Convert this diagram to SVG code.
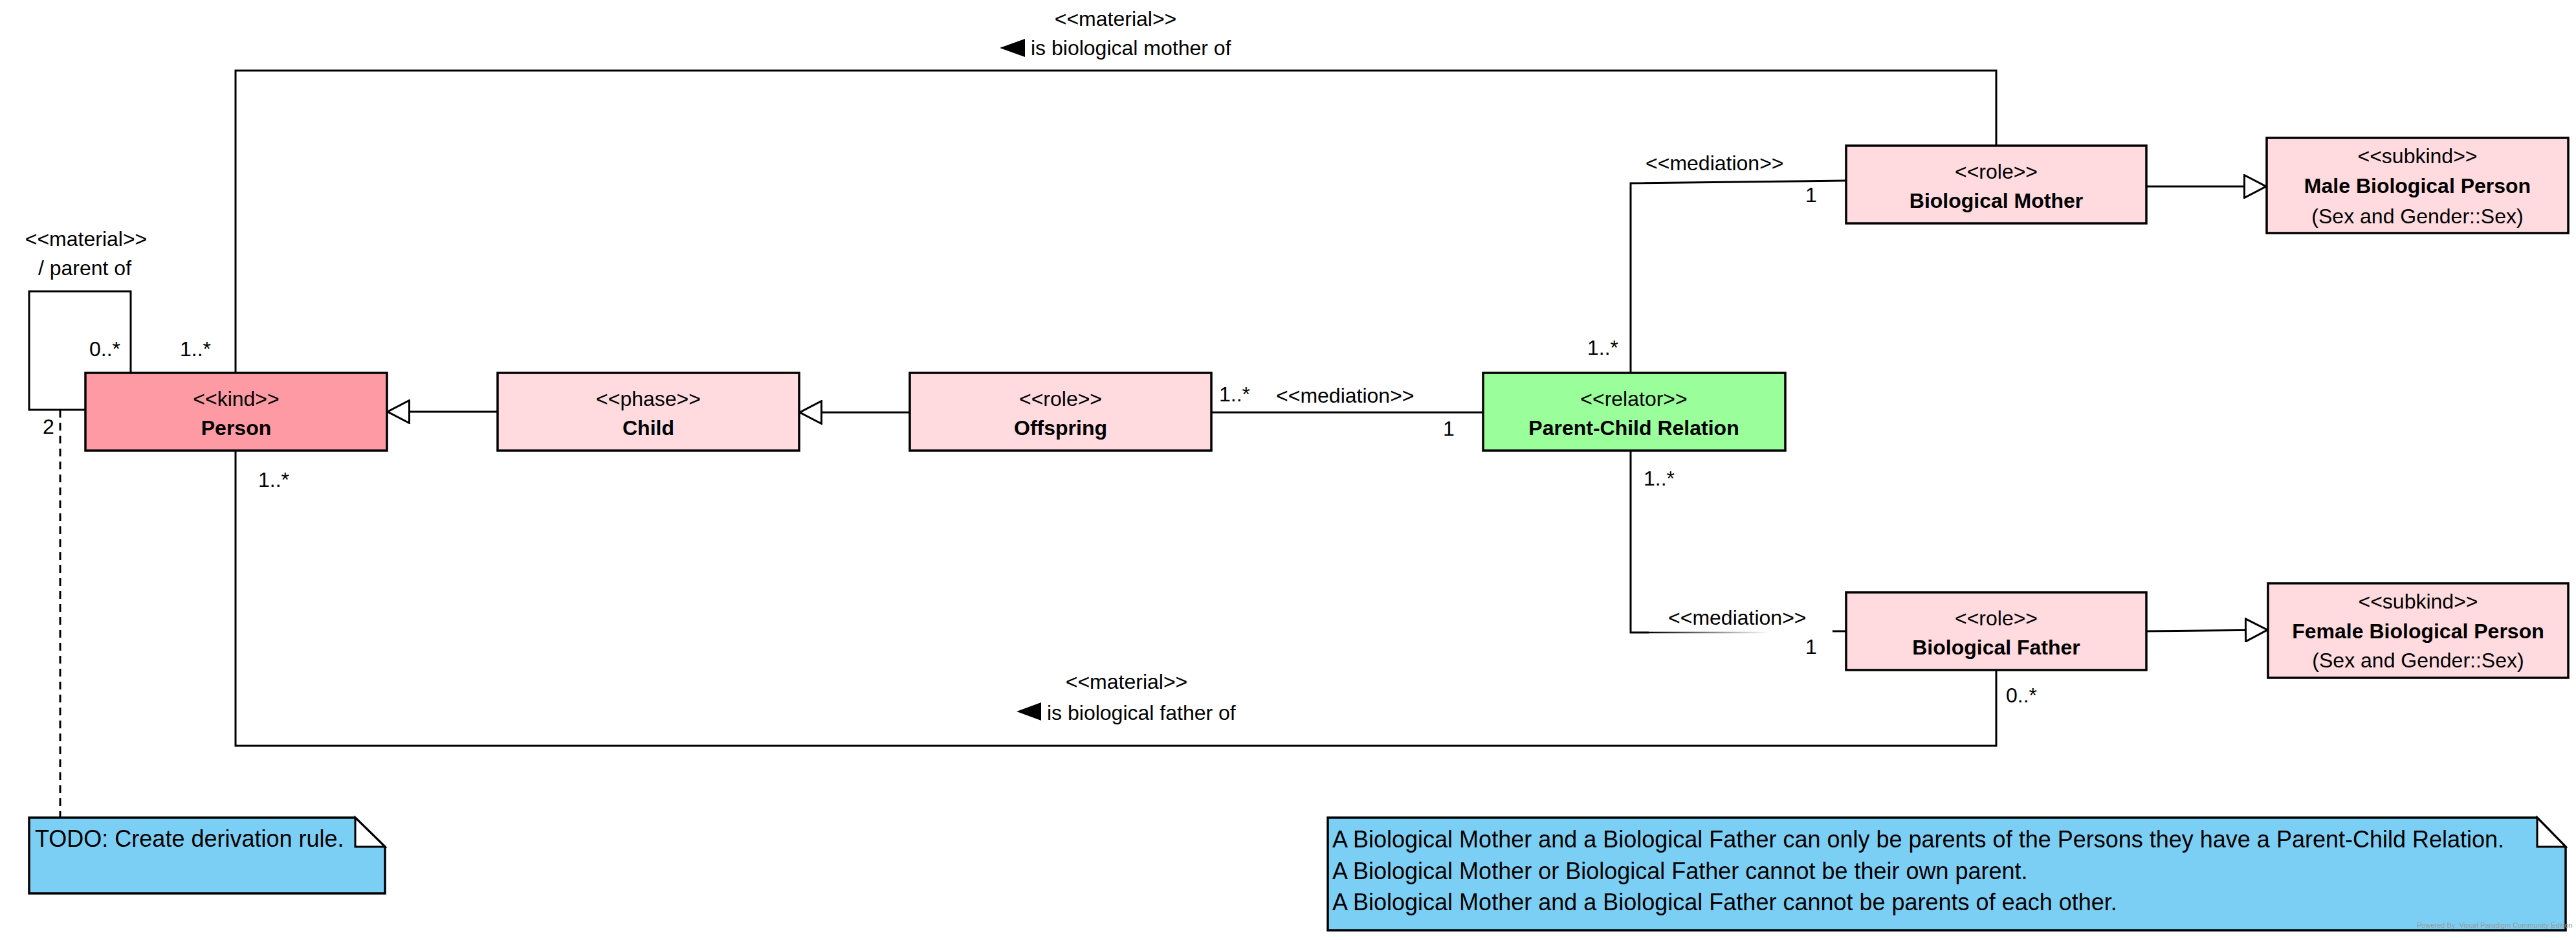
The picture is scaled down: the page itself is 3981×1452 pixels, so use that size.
<svg xmlns="http://www.w3.org/2000/svg" width="3981" height="1452" viewBox="0 0 3981 1452">
<style>
.t{font-family:"Liberation Sans",Arial,Helvetica,sans-serif;font-size:32px;fill:#000}
.n{font-size:36px}
.b{font-weight:bold}
.c{text-anchor:middle}
.box{stroke:#000;stroke-width:3.5}
.ln{fill:none;stroke:#000;stroke-width:3}
.pink{fill:#FFDADF}
.note{fill:#7CCFF4;stroke:#000;stroke-width:3.5}
.fold{fill:#fff;stroke:#000;stroke-width:3}
.wm{font-family:"Liberation Sans",Arial,sans-serif;font-size:11px;fill:#999}
</style>
<defs>
<marker id="gen" viewBox="0 0 36 38" refX="36" refY="19" markerWidth="36" markerHeight="38" markerUnits="userSpaceOnUse" orient="auto">
<path d="M1.5,1.5 L35,19 L1.5,36.5 Z" fill="#fff" stroke="#000" stroke-width="3"/>
</marker>
<linearGradient id="fade" gradientUnits="userSpaceOnUse" x1="2548" y1="0" x2="2735" y2="0">
<stop offset="0" stop-color="#000"/>
<stop offset="1" stop-color="#fff"/>
</linearGradient>
</defs>
<rect width="3981" height="1452" fill="#fff"/>

<g id="connectors">
<!-- self loop parent of -->
<polyline class="ln" points="202,576 202,450 45,450 45,633 132,633"/>
<!-- is biological mother of -->
<polyline class="ln" points="364,576 364,109 3085,109 3085,225"/>
<!-- is biological father of -->
<polyline class="ln" points="364,696 364,1152 3085,1152 3085,1035"/>
<!-- Offspring - PCR -->
<line class="ln" x1="1872" y1="637" x2="2292" y2="637"/>
<!-- PCR - Bio Mother -->
<polyline class="ln" points="2520,576 2520,283 2853,279"/>
<!-- PCR - Bio Father -->
<polyline class="ln" points="2520,696 2520,977 2548,977"/>
<line x1="2548" y1="977" x2="2735" y2="977" stroke="url(#fade)" stroke-width="2.5"/>
<line class="ln" x1="2832" y1="975" x2="2853" y2="975"/>
<!-- note anchor -->
<line x1="93" y1="633" x2="93" y2="1263" stroke="#000" stroke-width="3" stroke-dasharray="12 8"/>
<!-- generalizations -->
<line class="ln" x1="769" y1="636" x2="598" y2="636" marker-end="url(#gen)"/>
<line class="ln" x1="1406" y1="637" x2="1235" y2="637" marker-end="url(#gen)"/>
<line class="ln" x1="3317" y1="288" x2="3503" y2="288" marker-end="url(#gen)"/>
<line class="ln" x1="3317" y1="975" x2="3505" y2="973" marker-end="url(#gen)"/>
<!-- labels -->
<text class="t c" x="133" y="380">&lt;&lt;material&gt;&gt;</text>
<text class="t c" x="131" y="425">/ parent of</text>
<text class="t" x="138" y="550">0..*</text>
<text class="t" x="278" y="550">1..*</text>
<text class="t" x="66" y="670">2</text>
<text class="t" x="399" y="752">1..*</text>
<text class="t c" x="1724" y="40">&lt;&lt;material&gt;&gt;</text>
<polygon points="1545,74 1584,60 1584,88" fill="#000"/>
<text class="t" x="1593" y="85">is biological mother of</text>
<text class="t c" x="1741" y="1064">&lt;&lt;material&gt;&gt;</text>
<polygon points="1571,1099 1609,1085 1609,1113" fill="#000"/>
<text class="t" x="1618" y="1112">is biological father of</text>
<text class="t" x="3100" y="1085">0..*</text>
<text class="t" x="1884" y="620">1..*</text>
<text class="t" x="1972" y="622">&lt;&lt;mediation&gt;&gt;</text>
<text class="t" x="2230" y="673">1</text>
<text class="t" x="2453" y="548">1..*</text>
<text class="t" x="2543" y="263">&lt;&lt;mediation&gt;&gt;</text>
<text class="t" x="2790" y="312">1</text>
<text class="t" x="2540" y="750">1..*</text>
<text class="t" x="2578" y="965">&lt;&lt;mediation&gt;&gt;</text>
<text class="t" x="2790" y="1010">1</text>
</g>

<g id="person">
<rect class="box" x="132" y="576" width="466" height="120" fill="#FE9AA3"/>
<text class="t c" x="365" y="627">&lt;&lt;kind&gt;&gt;</text>
<text class="t c b" x="365" y="672">Person</text>
</g>
<g id="child">
<rect class="box pink" x="769" y="576" width="466" height="120"/>
<text class="t c" x="1002" y="627">&lt;&lt;phase&gt;&gt;</text>
<text class="t c b" x="1002" y="672">Child</text>
</g>
<g id="offspring">
<rect class="box pink" x="1406" y="576" width="466" height="120"/>
<text class="t c" x="1639" y="627">&lt;&lt;role&gt;&gt;</text>
<text class="t c b" x="1639" y="672">Offspring</text>
</g>
<g id="parent-child-relation">
<rect class="box" x="2292" y="576" width="467" height="120" fill="#9AFF9A"/>
<text class="t c" x="2525" y="627">&lt;&lt;relator&gt;&gt;</text>
<text class="t c b" x="2525" y="672">Parent-Child Relation</text>
</g>
<g id="biological-mother">
<rect class="box pink" x="2853" y="225" width="464" height="120"/>
<text class="t c" x="3085" y="276">&lt;&lt;role&gt;&gt;</text>
<text class="t c b" x="3085" y="321">Biological Mother</text>
</g>
<g id="biological-father">
<rect class="box pink" x="2853" y="915" width="464" height="120"/>
<text class="t c" x="3085" y="966">&lt;&lt;role&gt;&gt;</text>
<text class="t c b" x="3085" y="1011">Biological Father</text>
</g>
<g id="male-biological-person">
<rect class="box pink" x="3503" y="213" width="466" height="147"/>
<text class="t c" x="3736" y="252">&lt;&lt;subkind&gt;&gt;</text>
<text class="t c b" x="3736" y="298">Male Biological Person</text>
<text class="t c" x="3736" y="345">(Sex and Gender::Sex)</text>
</g>
<g id="female-biological-person">
<rect class="box pink" x="3505" y="901" width="464" height="146"/>
<text class="t c" x="3737" y="940">&lt;&lt;subkind&gt;&gt;</text>
<text class="t c b" x="3737" y="986">Female Biological Person</text>
<text class="t c" x="3737" y="1031">(Sex and Gender::Sex)</text>
</g>
<g id="note-todo">
<path class="note" d="M45,1263 H549 L595,1308 V1380 H45 Z"/>
<path class="fold" d="M549,1263 V1308 H595 Z"/>
<text class="t n" x="54" y="1308">TODO: Create derivation rule.</text>
</g>
<g id="note-constraints">
<path class="note" d="M2052,1263 H3921 L3965,1308 V1437 H2052 Z"/>
<path class="fold" d="M3921,1263 V1308 H3965 Z"/>
<text class="t n" x="2059" y="1309">A Biological Mother and a Biological Father can only be parents of the Persons they have a Parent-Child Relation.</text>
<text class="t n" x="2059" y="1358">A Biological Mother or Biological Father cannot be their own parent.</text>
<text class="t n" x="2059" y="1406">A Biological Mother and a Biological Father cannot be parents of each other.</text>
<text class="wm" x="3735" y="1433">Powered By: Visual Paradigm Community Edition</text>
</g>
</svg>
